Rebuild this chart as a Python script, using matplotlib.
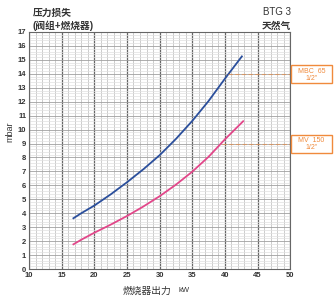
import matplotlib
matplotlib.use("Agg")
import matplotlib.pyplot as plt
from matplotlib.ticker import MultipleLocator
from matplotlib.patches import Rectangle

plt.rcParams['font.family'] = ['Liberation Sans', 'Noto Sans CJK SC', 'DejaVu Sans']

# burner output kW -> pressure loss mbar
mbc_kw = [16.8, 18, 20, 22.5, 25, 27.5, 30, 32.5, 35, 37.5, 40, 42.6]
mbc_mbar = [3.64, 4.0, 4.55, 5.35, 6.22, 7.15, 8.16, 9.33, 10.62, 12.05, 13.65, 15.25]
mv_kw = [16.8, 18, 20, 22.5, 25, 27.5, 30, 32.5, 35, 37.5, 40, 42.8]
mv_mbar = [1.77, 2.1, 2.6, 3.18, 3.8, 4.48, 5.22, 6.05, 6.98, 8.05, 9.3, 10.6]

# dashed valve markers
valve_kw = [40.5, 39.6]
valve_mbar = [14.0, 9.0]
valve_labels = ['MBC  65\n1/2"', 'MV  150\n1/2"']

orange = '#f08a3c'
grey = '#333333'

fig = plt.figure(figsize=(3.36, 2.99), dpi=100)
ax = fig.add_axes([0.0863, 0.1003, 0.7774, 0.7927])

ax.set_xlim(10, 50)
ax.set_ylim(0, 17)
ax.xaxis.set_major_locator(MultipleLocator(5))
ax.xaxis.set_minor_locator(MultipleLocator(1))
ax.yaxis.set_major_locator(MultipleLocator(1))
ax.yaxis.set_minor_locator(MultipleLocator(0.2))
ax.grid(which='minor', axis='y', color='#e0e0e0', linewidth=0.5)
ax.grid(which='minor', axis='x', color='#b8b8b8', linewidth=0.5)
ax.grid(which='major', axis='y', color='#a0a0a0', linewidth=0.6)
ax.grid(which='major', axis='x', color='#666666', linewidth=0.9)
ax.set_axisbelow(True)
for s in ax.spines.values():
    s.set_color('#666666')
    s.set_linewidth(0.8)
ax.tick_params(which='both', length=0, pad=2, labelsize=5.5, labelcolor=grey)
for lab in ax.get_xticklabels() + ax.get_yticklabels():
    lab.set_fontweight('bold')

ax.plot(mbc_kw, mbc_mbar, color='#2b4f9c', linewidth=1.3, solid_joinstyle='round')
ax.plot(mv_kw, mv_mbar, color='#e2478a', linewidth=1.3, solid_joinstyle='round')

# dashed lines to the right edge plus labelled boxes outside the plot
for k, m, lab in zip(valve_kw, valve_mbar, valve_labels):
    ax.plot([k, 50], [m, m], color=orange, linewidth=0.8, linestyle=(0, (4, 2)), alpha=0.6)
    _, yfig = fig.transFigure.inverted().transform(ax.transData.transform((50, m)))
    box_h = 18 / 299
    fig.patches.append(Rectangle((291 / 336, yfig - box_h / 2), 41 / 336, box_h,
                                 transform=fig.transFigure, fc='white', ec=orange,
                                 lw=1.0, zorder=1))
    fig.text(311.5 / 336, yfig - 0.003, lab, fontsize=5.0, color=orange, ha='center',
             va='center', linespacing=1.0, zorder=5)

fig.text(0.097, 0.957, '压力损失', fontsize=7, fontweight='bold', color=grey,
         ha='left', va='center')
fig.text(0.097, 0.915, '(阀组+燃烧器)', fontsize=7, fontweight='bold', color=grey,
         ha='left', va='center')
fig.text(0.865, 0.96, 'BTG 3', fontsize=7, color=grey, ha='right', va='center')
fig.text(0.865, 0.915, '天然气', fontsize=7, fontweight='bold', color=grey,
         ha='right', va='center')
fig.text(0.4375, 0.027, '燃烧器出力', fontsize=7, color=grey, ha='center', va='center')
fig.text(0.53, 0.027, 'kW', fontsize=5.5, color=grey, ha='left', va='center')
fig.text(0.03, 0.558, 'mbar', fontsize=6.5, color=grey, rotation=90, ha='center', va='center')

fig.savefig('out.png', dpi=100)
